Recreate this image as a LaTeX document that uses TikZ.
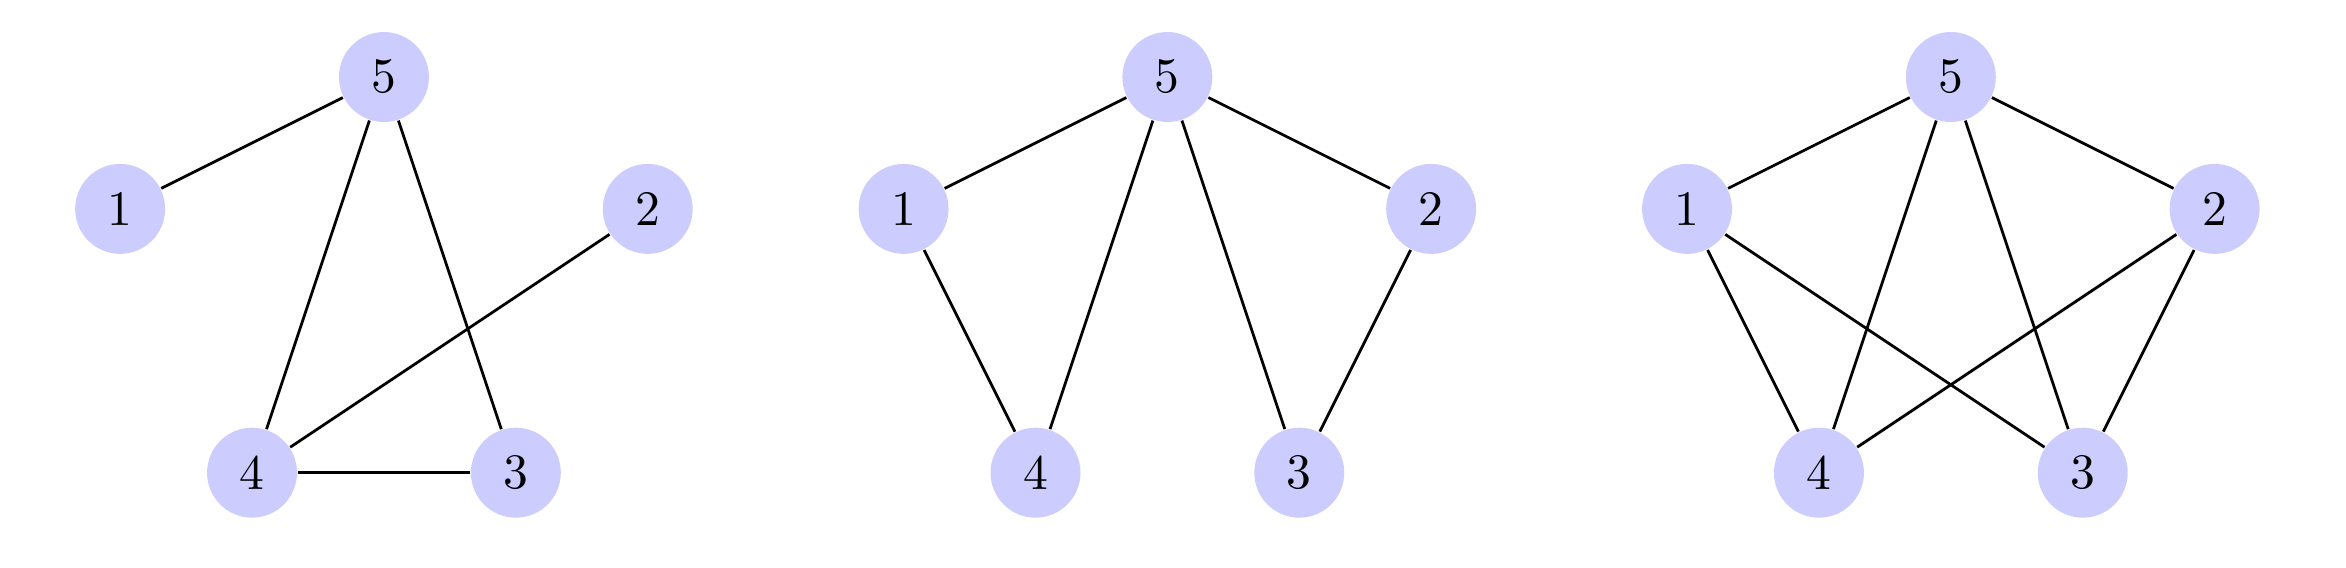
\documentclass[tikz,border=0pt]{standalone}
\begin{document}
\begin{tikzpicture}[x=1cm,y=1cm,
  vertex/.style={circle,fill=blue!20,draw=none,minimum size=0.682cm,inner sep=0pt,font=\fontsize{10.7}{13}\selectfont},
  edge/.style={line width=0.6pt,black}]
\useasboundingbox (-2.911,-1.720) rectangle (14.876,2.584);
% graph 1
\node[vertex] (a5) at (0,2) {5};
\node[vertex] (a1) at (-2,1) {1};
\node[vertex] (a2) at (2,1) {2};
\node[vertex] (a4) at (-1,-1) {4};
\node[vertex] (a3) at (1,-1) {3};
\draw[edge] (a5) -- (a1);
\draw[edge] (a5) -- (a4);
\draw[edge] (a5) -- (a3);
\draw[edge] (a2) -- (a4);
\draw[edge] (a4) -- (a3);
% graph 2
\begin{scope}[xshift=5.94cm]
\node[vertex] (b5) at (0,2) {5};
\node[vertex] (b1) at (-2,1) {1};
\node[vertex] (b2) at (2,1) {2};
\node[vertex] (b4) at (-1,-1) {4};
\node[vertex] (b3) at (1,-1) {3};
\draw[edge] (b5) -- (b1);
\draw[edge] (b5) -- (b2);
\draw[edge] (b5) -- (b4);
\draw[edge] (b5) -- (b3);
\draw[edge] (b1) -- (b4);
\draw[edge] (b2) -- (b3);
\end{scope}
% graph 3
\begin{scope}[xshift=11.88cm]
\node[vertex] (c5) at (0,2) {5};
\node[vertex] (c1) at (-2,1) {1};
\node[vertex] (c2) at (2,1) {2};
\node[vertex] (c4) at (-1,-1) {4};
\node[vertex] (c3) at (1,-1) {3};
\draw[edge] (c5) -- (c1);
\draw[edge] (c5) -- (c2);
\draw[edge] (c5) -- (c4);
\draw[edge] (c5) -- (c3);
\draw[edge] (c1) -- (c4);
\draw[edge] (c1) -- (c3);
\draw[edge] (c2) -- (c4);
\draw[edge] (c2) -- (c3);
\end{scope}
\end{tikzpicture}
\end{document}
